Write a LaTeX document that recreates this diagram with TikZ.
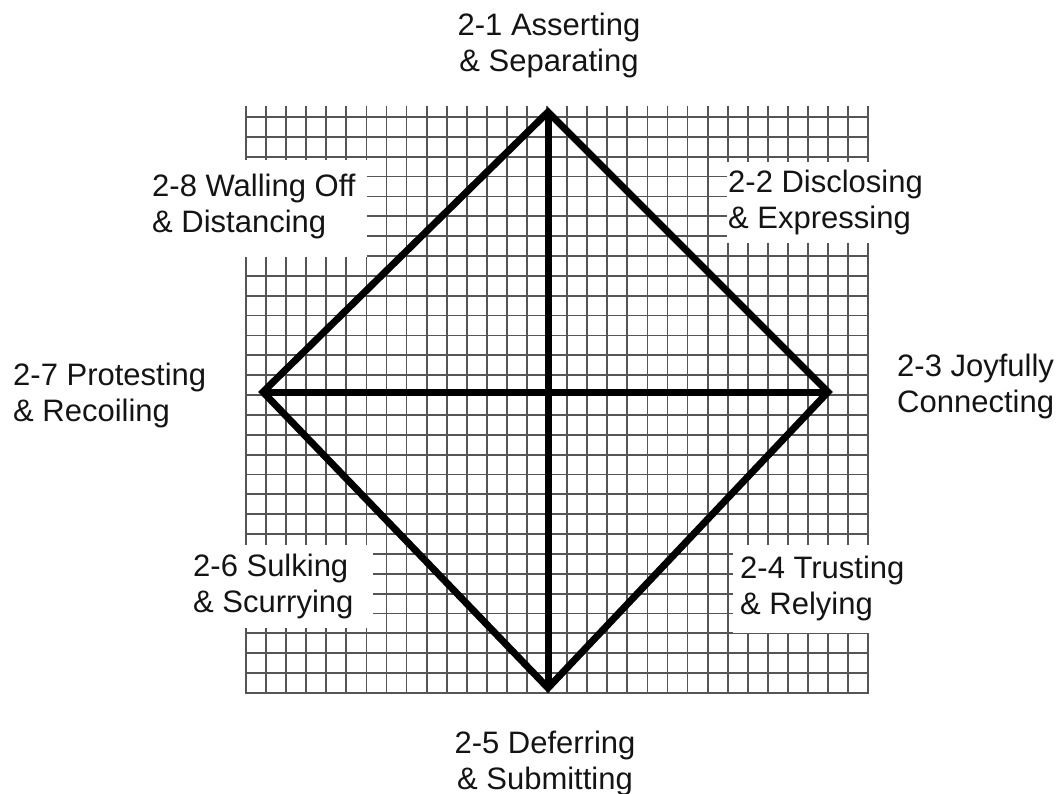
\documentclass[tikz,border=0pt]{standalone}
\usepackage{fontspec}
\setmainfont{Liberation Sans}
\usepackage{xcolor}
\definecolor{cGrid}{HTML}{555555}
\definecolor{cKite}{HTML}{000000}
\definecolor{cText}{HTML}{141414}
\usetikzlibrary{positioning,calc}
\tikzset{
  grid-line/.style={draw=cGrid,line width=1.8pt},
  kite-line/.style={draw=cKite,line width=7pt,line join=miter},
  label-box/.style={fill=white,draw=none},
  label-text/.style={inner sep=0pt,align=left,text=cText,
    font=\fontsize{31}{36}\selectfont},
}
\begin{document}
\begin{tikzpicture}[x=1pt,y=-1pt]
  \useasboundingbox (0,0) rectangle (1058,794);
  % squared paper behind the kite
  \foreach \i in {0,...,31}
    \draw[grid-line] ({246+20.07*\i},106) -- ({246+20.07*\i},694);
  \foreach \j in {0,...,29}
    \draw[grid-line] (246,{117+19.86*\j}) -- (868,{117+19.86*\j});
  % white patches under the inner labels
  \fill[label-box] (238,160) rectangle (367,257);
  \fill[label-box] (727,162) rectangle (876,243);
  \fill[label-box] (733,545) rectangle (876,633);
  \fill[label-box] (238,545) rectangle (373,628);
  % kite
  \coordinate (top) at (548,112);
  \coordinate (right) at (828,392);
  \coordinate (bottom) at (548,688);
  \coordinate (left) at (263,392);
  \draw[kite-line] (top) -- (right) -- (bottom) -- (left) -- cycle;
  \draw[kite-line] (top) -- (bottom);
  \draw[kite-line] (left) -- (right);
  % labels (base = baseline of the second line)
  \node[label-text,align=center,anchor=base] (asserting) at (549,72) {2-1 Asserting\\\& Separating};
  \node[label-text,anchor=base west] (disclosing) at (728,229) {2-2 Disclosing\\\& Expressing};
  \node[label-text,anchor=base west] (joyfully) at (897,413) {2-3 Joyfully\\Connecting};
  \node[label-text,anchor=base west] (trusting) at (740,614) {2-4 Trusting\\\& Relying};
  \node[label-text,align=center,anchor=base] (deferring) at (545,789) {2-5 Deferring\\\& Submitting};
  \node[label-text,anchor=base west] (sulking) at (193,612) {2-6 Sulking\\\& Scurrying};
  \node[label-text,anchor=base west] (protesting) at (13,421) {2-7 Protesting\\\& Recoiling};
  \node[label-text,anchor=base west] (walling) at (152,233) {2-8 Walling Off\\\& Distancing};
\end{tikzpicture}
\end{document}
